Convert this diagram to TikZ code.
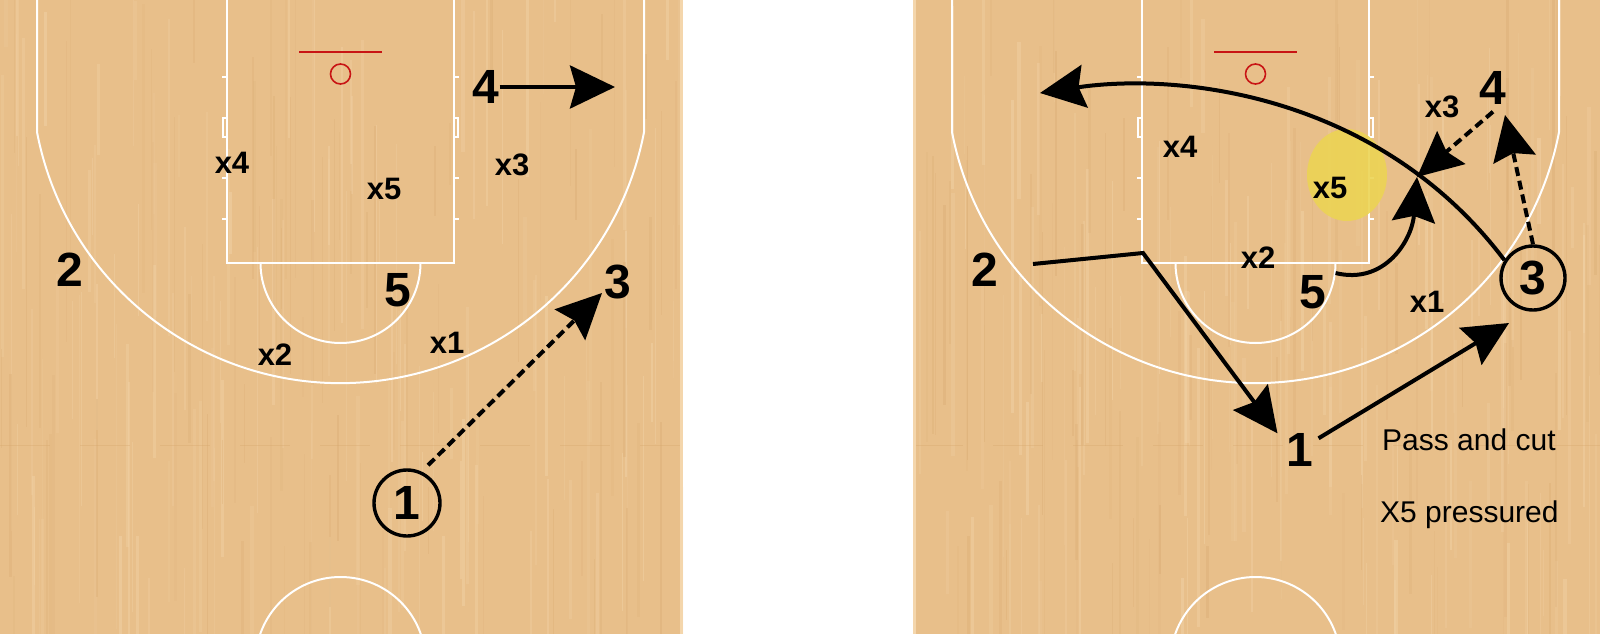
\documentclass[tikz,border=0pt]{standalone}
\usepackage{fontspec}
\setmainfont{Liberation Sans}
\usetikzlibrary{arrows.meta,calc}
\definecolor{wood}{RGB}{232,191,138}
\definecolor{woodlight}{RGB}{244,214,172}
\definecolor{wooddark}{RGB}{214,166,108}
\definecolor{hoopred}{RGB}{200,20,20}
\definecolor{hilite}{RGB}{236,212,84}
\begin{document}
\begin{tikzpicture}[x=1pt,y=-1pt,
  court/.style={white,line width=2pt},
  big/.style={font=\bfseries\fontsize{48}{48}\selectfont,inner sep=0pt},
  def/.style={font=\bfseries\fontsize{31}{31}\selectfont,inner sep=0pt},
  ring/.style={draw,circle,line width=3.4pt,minimum size=66pt,inner sep=0pt,font=\bfseries\fontsize{48}{48}\selectfont},
  note/.style={font=\fontsize{30}{30}\selectfont,inner sep=0pt,anchor=base west},
  mv/.style={line width=4pt,-{Stealth[length=45pt,width=43pt,inset=6pt]}},
  pass/.style={mv,dash pattern=on 9pt off 5pt},
]
\useasboundingbox (0,0) rectangle (1600,634);
\fill[white] (0,0) rectangle (1600,634);
\pgfmathsetseed{11}
\foreach \ox/\pl/\pr in {0/0/683,915/913/1600}{
  \begin{scope}
    \clip (\pl,0) rectangle (\pr,634);
    \fill[wood] (\pl,0) rectangle (\pr,634);
    \foreach \k in {1,...,130}{
      \pgfmathsetmacro\sx{\pl+rnd*(\pr-\pl)}
      \pgfmathsetmacro\sw{0.6+rnd*3}
      \pgfmathsetmacro\so{0.12+rnd*0.3}
      \pgfmathsetmacro\sy{-50+rnd*634}
      \pgfmathsetmacro\sl{60+rnd*260}
      \fill[woodlight,opacity=\so] (\sx,\sy) rectangle ++(\sw,\sl);
    }
    \foreach \k in {1,...,80}{
      \pgfmathsetmacro\sx{\pl+rnd*(\pr-\pl)}
      \pgfmathsetmacro\sw{0.6+rnd*2.5}
      \pgfmathsetmacro\so{0.08+rnd*0.22}
      \pgfmathsetmacro\sy{-50+rnd*634}
      \pgfmathsetmacro\sl{60+rnd*260}
      \fill[wooddark,opacity=\so] (\sx,\sy) rectangle ++(\sw,\sl);
    }
    \draw[wooddark,opacity=0.35,line width=1pt,dash pattern=on 50pt off 30pt] (\pl,445) -- (\pr,445);
    \begin{scope}[shift={(\ox,0)}]
      \draw[court] (37,0) -- (37,132) arc[start angle=169.2,end angle=10.8,radius=309] -- (644,0);
      \draw[court] (227,0) -- (227,263) -- (454,263) -- (454,0);
      \draw[court] (420.5,263) arc[start angle=0,end angle=180,radius=80];
      \draw[court] (340.5,662) circle[radius=85];
      \foreach \ty in {77,178,219}{
        \draw[court,line width=1.5pt] (227,\ty) -- ++(-5,0);
        \draw[court,line width=1.5pt] (454,\ty) -- ++(5,0);
      }
      \draw[court,line width=1.2pt] (227,118) rectangle ++(-4,19);
      \draw[court,line width=1.2pt] (454,118) rectangle ++(4,19);
      \draw[hoopred,line width=2pt] (299,52) -- (382,52);
      \draw[hoopred,line width=1.6pt] (340.5,74) circle[radius=10];
    \end{scope}
  \end{scope}
}
\fill[woodlight] (680,0) rectangle (683,634);
\fill[woodlight] (913,0) rectangle (916,634);

% ---------- left court ----------
\node[big] (p4L) at (486,87) {4};
\node[def] (x4L) at (232,163) {x4};
\node[def] (x3L) at (512,165) {x3};
\node[def] (x5L) at (384,189) {x5};
\node[big] (p2L) at (70,270) {2};
\node[big] (p5L) at (398,290) {5};
\node[big] (p3L) at (618,282) {3};
\node[def] (x2L) at (275,355) {x2};
\node[def] (x1L) at (447,343) {x1};
\node[ring] (p1L) at (407,503) {1};
\coordinate (t4L) at (615,87);
\coordinate (t13L) at (602,293);
\draw[mv] (p4L.east) -- (t4L);
\draw[pass,shorten <=9pt] (p1L.65) -- (t13L);

% ---------- right court ----------
\fill[hilite,opacity=0.9] (1347,175) ellipse[x radius=40,y radius=46];
\node[big] (p4R) at (1493,88) {4};
\node[def] (x3R) at (1442,107) {x3};
\node[def] (x4R) at (1180,147) {x4};
\node[def] (x5R) at (1330,188) {x5};
\node[big] (p2R) at (985,270) {2};
\node[def] (x2R) at (1258,258) {x2};
\node[big] (p5R) at (1313,292) {5};
\node[def] (x1R) at (1427,302) {x1};
\node[ring,minimum size=64pt] (p3R) at (1533,278) {3};
\node[big] (p1R) at (1300,450) {1};
\node[note] (n1) at (1382,450) {Pass and cut};
\node[note] (n2) at (1380,522) {X5 pressured};
\coordinate (s2) at (1033,264);
\coordinate (k2) at (1143,253);
\coordinate (cross) at (1417,177);
\coordinate (t3) at (1509,323);
\coordinate (t34) at (1505,115);
\coordinate (t32) at (1040,93);
\draw[mv] (p3R.148) .. controls (1380,95) and (1180,72) .. (t32);
\draw[mv] (s2) -- (k2) -- ([xshift=-9pt]p1R.north west);
\draw[mv] ([xshift=5pt,yshift=-5pt]p1R.north east) -- (t3);
\draw[mv] ([xshift=9pt,yshift=2pt]p5R.north east) .. controls (1385,285) and (1412,240) .. (cross);
\draw[pass] ([yshift=-7pt]p4R.south) -- (cross);
\draw[pass] (p3R.north) -- (t34);
\end{tikzpicture}
\end{document}
